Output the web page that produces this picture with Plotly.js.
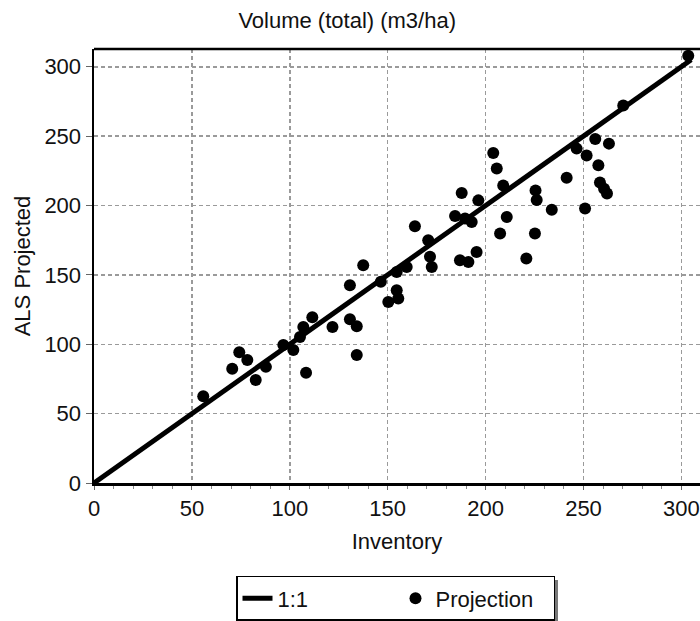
<!DOCTYPE html>
<html>
<head>
<meta charset="utf-8">
<script src="https://cdn.plot.ly/plotly-3.0.1.min.js"></script>
<style>html,body{margin:0;padding:0;background:#fff;}#chart{width:700px;height:621px;}</style>
</head>
<body>
<div id="chart"></div>
<script>
// 1:1 reference line
const lineX = [0, 305];
const lineY = [0, 305];

// Projection points: Inventory (x) vs ALS Projected (y)
const inventory = [55.8, 70.6, 74.2, 78.3, 82.6, 87.8, 96.7, 101.8, 105.2, 106.9,
  111.5, 108.3, 121.8, 130.7, 134.2, 134.2, 130.7, 137.5, 146.5, 154.6,
  159.7, 154.6, 155.4, 150.3, 163.9, 170.7, 171.6, 172.5, 187.8, 184.4,
  189.5, 192.9, 196.3, 186.9, 191.2, 195.4, 203.9, 205.7, 209.0, 207.4,
  210.8, 225.5, 226.1, 233.8, 225.2, 220.8, 241.4, 250.8, 246.5, 251.6,
  257.6, 256.0, 263.0, 258.4, 262.0, 260.5, 270.3, 303.5];
const alsProjected = [62.6, 82.3, 94.3, 88.6, 74.2, 83.7, 99.4, 95.8, 105.3, 112.5,
  119.5, 79.4, 112.5, 118.0, 113.0, 92.2, 142.5, 157.0, 145.0, 152.1,
  155.7, 139.0, 133.0, 130.5, 185.0, 175.0, 163.0, 155.7, 209.0, 192.5,
  190.6, 188.1, 203.7, 160.5, 159.3, 166.5, 237.8, 226.6, 214.5, 179.8,
  191.7, 210.9, 204.0, 197.0, 179.8, 161.8, 220.0, 197.8, 241.0, 236.0,
  229.0, 248.0, 244.6, 216.5, 208.6, 212.0, 272.0, 308.0];

const tickVals = [0, 50, 100, 150, 200, 250, 300];
const tickText = ['0', '50', '100', '150', '200', '250', '300'];

const FONT = '"Liberation Sans", Arial, sans-serif';
const FS = 22;

const traces = [
  {x: lineX, y: lineY, mode: 'lines', name: '1:1',
   line: {color: '#000', width: 5}, hoverinfo: 'skip'},
  {x: inventory, y: alsProjected, mode: 'markers', name: 'Projection',
   marker: {color: '#000', size: 12, symbol: 'circle'}}
];

const layout = {
  width: 700, height: 621,
  margin: {l: 94, r: 0, t: 48.5, b: 138},
  paper_bgcolor: '#fff', plot_bgcolor: '#fff',
  font: {family: FONT, size: FS, color: '#111'},
  showlegend: true,
  title: {text: 'Volume (total) (m3/ha)', font: {family: FONT, size: FS, color: '#111'},
          x: 0.496, xref: 'container', xanchor: 'center', y: 0.967, yref: 'container', yanchor: 'middle'},
  xaxis: {
    range: [0, 309.5], tickvals: tickVals, ticktext: tickText,
    showline: true, linecolor: '#000', linewidth: 2.5,
    ticks: 'outside', ticklen: 4, tickcolor: '#666', tickwidth: 1,
    minor: {dtick: 10, ticks: 'outside', ticklen: 3, tickcolor: '#888', showgrid: false},
    showgrid: true, gridcolor: '#9a9a9a', gridwidth: 1.5, griddash: '4px,3px',
    zeroline: false,
    tickfont: {family: FONT, size: FS, color: '#111'},
    title: {text: 'Inventory', font: {family: FONT, size: FS, color: '#111'}, standoff: 14}
  },
  yaxis: {
    range: [0, 312.8], tickvals: tickVals, ticktext: tickText,
    showline: true, linecolor: '#000', linewidth: 2.5,
    ticks: 'outside', ticklen: 6, tickcolor: '#666', tickwidth: 1,
    showgrid: true, gridcolor: '#9a9a9a', gridwidth: 1.5, griddash: '4px,3px',
    zeroline: false,
    tickfont: {family: FONT, size: FS, color: '#111'},
    title: {text: 'ALS Projected', font: {family: FONT, size: FS, color: '#111'}, standoff: 8}
  },
  shapes: [
    {type: 'line', xref: 'paper', yref: 'paper', x0: 0, x1: 1, y0: 1, y1: 1,
     line: {color: '#000', width: 2.5}},
    {type: 'rect', xref: 'paper', yref: 'paper', layer: 'below',
     x0: (240 - 94) / 606, x1: (558 - 94) / 606,
     y0: (483 - 622) / 434.5, y1: (483 - 580) / 434.5,
     fillcolor: '#777', line: {width: 0}}
  ],
  legend: {
    orientation: 'h', x: (236 - 94) / 606, xanchor: 'left',
    y: (483 - 576) / 434.5, yanchor: 'top',
    bgcolor: '#fff', bordercolor: '#000', borderwidth: 1.5,
    font: {family: FONT, size: FS, color: '#111'},
    entrywidth: 113, entrywidthmode: 'pixels', itemwidth: 30
  }
};

Plotly.newPlot('chart', traces, layout, {displayModeBar: false, staticPlot: true});
</script>
</body>
</html>
